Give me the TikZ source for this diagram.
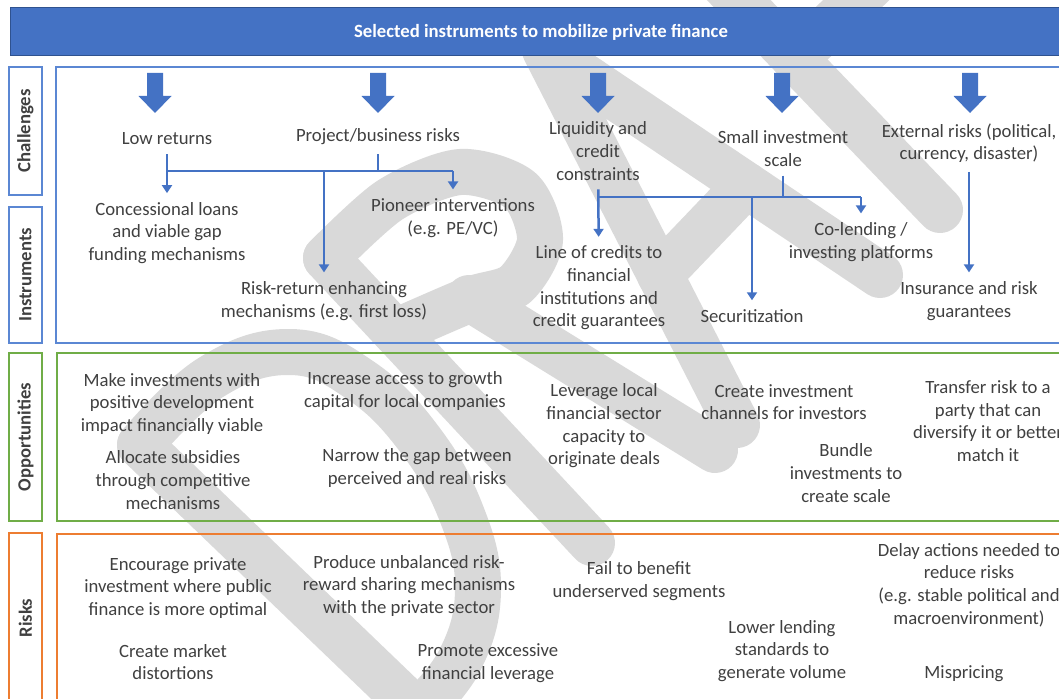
\documentclass[tikz,border=0pt]{standalone}
\usepackage{fontspec}
\setmainfont{Carlito}
\usetikzlibrary{arrows.meta}
\definecolor{bannerblue}{HTML}{4472C4}
\definecolor{banneredge}{HTML}{2F528F}
\definecolor{panelblue}{HTML}{5B87D3}
\definecolor{panelgreen}{HTML}{70AD47}
\definecolor{panelorange}{HTML}{ED7D31}
\definecolor{textgrey}{HTML}{404040}
\definecolor{draftgrey}{HTML}{D9D9D9}

\tikzset{
  txt/.style={text=textgrey, align=center, inner sep=0pt, font=\fontsize{18.7}{22.6}\selectfont},
  rowlabel/.style={draw=#1, line width=1.8pt, rotate=90, inner sep=0pt, minimum height=33pt, text=textgrey, font=\bfseries\fontsize{18.7}{22.6}\selectfont},
  panel/.style={draw=#1, line width=1.8pt},
  link/.style={draw=bannerblue, line width=2.5pt, shorten <=9pt},
  flow/.style={link, shorten >=9pt, -{Triangle[width=10pt,length=8pt]}},
  drafttrace/.style={draw=draftgrey, line width=46pt, line cap=round, line join=round},
  downarrow/.pic={\fill[bannerblue] (-8,0) -- (8,0) -- (8,23) -- (16.5,23) -- (0,40) -- (-16.5,23) -- (-8,23) -- cycle;}
}

\begin{document}
\begin{tikzpicture}[x=1pt, y=-1pt]
\useasboundingbox (0,0) rectangle (1059,698);
\clip (0,0) rectangle (1059,698);

% DRAFT watermark, drawn first so that everything sits on top
% D
\draw[drafttrace] (140,445) -- (418,712);
\draw[drafttrace] plot[smooth, tension=0.7] coordinates {(140,445) (210,378) (290,352) (360,380) (420,440) (462,515) (478,590) (460,660) (418,712)};
% R
\draw[drafttrace] (326,258) -- (592,543);
\draw[drafttrace] plot[smooth] coordinates {(326,258) (390,200) (460,172) (520,190) (540,240) (515,285) (469,300) (395,332)};
\draw[drafttrace] (469,298) -- (715,450);
% A
\draw[drafttrace] (737,425) -- (545,50) -- (880,275);
\draw[drafttrace] (660,275) -- (746,185);
% F
\draw[drafttrace] (664,-78) -- (940,210);
\draw[drafttrace] (795,59) -- (903,-45);

% banner
\node[fill=bannerblue, draw=banneredge, line width=1pt, minimum width=1062pt, minimum height=48pt, inner sep=0pt, text=white, font=\bfseries\fontsize{18.7}{22.6}\selectfont] (banner) at (541,32) {Selected instruments to mobilize private finance};

% row labels and panels
\node[rowlabel=panelblue, minimum width=128pt] (chal) at (25.5,131) {Challenges};
\node[rowlabel=panelblue, minimum width=136pt] (instr) at (25.5,275) {Instruments};
\node[rowlabel=panelgreen, minimum width=168pt] (opp) at (25.5,437) {Opportunities};
\node[rowlabel=panelorange, minimum width=170pt] (risk) at (25.5,618) {Risks};
\draw[panel=panelblue] (56,67) rectangle (1075,343);
\draw[panel=panelgreen] (57,353) rectangle (1075,521);
\draw[panel=panelorange] (57,534) rectangle (1075,710);

\foreach \x in {155,378,598,782,970}
  \pic at (\x,73) {downarrow};

% challenges
\node[txt] (lowret) at (167,139) {Low returns};
\node[txt] (projrisk) at (378,137) {Project/business risks};
\node[txt] (liquid) at (598,151) {Liquidity and\\credit\\constraints};
\node[txt] (smallinv) at (783,148.5) {Small investment\\scale};
\node[txt] (extrisk) at (969,143) {External risks (political,\\currency, disaster)};

% instruments
\node[txt] (concess) at (167,233) {Concessional loans\\and viable gap\\funding mechanisms};
\node[txt] (pioneer) at (453,218) {Pioneer interventions\\(e.g. PE/VC)};
\node[txt] (riskret) at (324,301) {Risk-return enhancing\\mechanisms (e.g. first loss)};
\node[txt] (credline) at (599,288) {Line of credits to\\financial\\institutions and\\credit guarantees};
\node[txt] (secur) at (752,316) {Securitization};
\node[txt] (colend) at (861,242) {Co-lending /\\investing platforms};
\node[txt] (insur) at (969,301) {Insurance and risk\\guarantees};

\coordinate (leftbar) at (0,171);
\coordinate (rightbar) at (0,197);

\draw[flow] (lowret) -- (concess);
\draw[link] (projrisk.south) -- (projrisk.south |- leftbar);
\draw[link, shorten <=0pt] (lowret.south |- leftbar) -- (pioneer.north |- leftbar);
\draw[flow, shorten <=0pt] (riskret.north |- leftbar) -- (riskret.north);
\draw[flow, shorten <=0pt] (pioneer.north |- leftbar) -- (pioneer.north);

\draw[flow] (liquid) -- (credline);
\draw[link] (smallinv.south) -- (smallinv.south |- rightbar);
\draw[link, shorten <=0pt] (liquid.south |- rightbar) -- (colend.north |- rightbar);
\draw[flow, shorten <=0pt] (secur.north |- rightbar) -- (secur.north);
\draw[flow, shorten <=0pt] (colend.north |- rightbar) -- (colend.north);
\draw[flow] (extrisk) -- (insur);

% opportunities
\node[txt] (makeinv) at (172,404) {Make investments with\\positive development\\impact financially viable};
\node[txt] (alloc) at (173,480) {Allocate subsidies\\through competitive\\mechanisms};
\node[txt] (access) at (405,391) {Increase access to growth\\capital for local companies};
\node[txt] (narrow) at (417,468) {Narrow the gap between\\perceived and real risks};
\node[txt] (leverage) at (604,426) {Leverage local\\financial sector\\capacity to\\originate deals};
\node[txt] (channels) at (784,402) {Create investment\\channels for investors};
\node[txt] (bundle) at (846,473) {Bundle\\investments to\\create scale};
\node[txt] (transfer) at (988,421) {Transfer risk to a\\party that can\\diversify it or better\\match it};

% risks
\node[txt] (encour) at (178,588) {Encourage private\\investment where public\\finance is more optimal};
\node[txt] (distort) at (173,662) {Create market\\distortions};
\node[txt] (unbal) at (409,586) {Produce unbalanced risk-\\reward sharing mechanisms\\with the private sector};
\node[txt] (excess) at (488,663) {Promote excessive\\financial leverage};
\node[txt] (underserv) at (639,581) {Fail to benefit\\underserved segments};
\node[txt] (lending) at (782,651) {Lower lending\\standards to\\generate volume};
\node[txt] (delay) at (969,585) {Delay actions needed to\\reduce risks\\(e.g. stable political and\\macroenvironment)};
\node[txt] (mispr) at (964,674) {Mispricing};
\end{tikzpicture}
\end{document}
